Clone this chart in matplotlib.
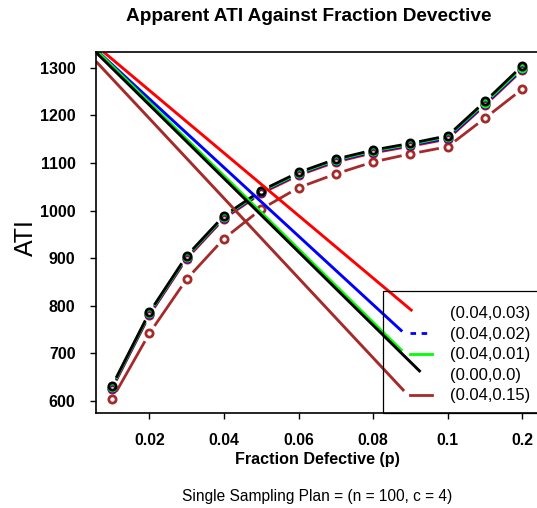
import matplotlib
matplotlib.use("Agg")
import matplotlib.pyplot as plt
from matplotlib.lines import Line2D
from matplotlib.patches import Rectangle

plt.rcParams['font.family'] = ['Liberation Sans', 'DejaVu Sans']

# ---- data -----------------------------------------------------------
p_values = [0.01, 0.02, 0.03, 0.04, 0.05, 0.06, 0.07, 0.08, 0.09, 0.10, 0.15, 0.20]
positions = list(range(1, len(p_values) + 1))   # equally spaced categories
tick_positions = [2, 4, 6, 8, 10, 12]

ati_red = [626, 780, 899, 983, 1036, 1074, 1102, 1121, 1135, 1150, 1221, 1295]
ati_blue = [628, 782, 901, 985, 1038, 1076, 1104, 1123, 1137, 1152, 1223, 1297]
ati_green = [630, 784, 903, 987, 1040, 1078, 1106, 1125, 1139, 1155, 1226, 1300]
ati_black = [632, 786, 905, 989, 1042, 1080, 1108, 1127, 1141, 1157, 1229, 1304]
ati_brown = [604, 742, 856, 941, 1003, 1048, 1077, 1102, 1119, 1134, 1194, 1255]

# straight lines (start x, start y, end x, end y) in plot units
diag_red = [0.77, 1333, 9.05, 789]
diag_blue = [0.63, 1333, 8.78, 746]
diag_green = [0.63, 1332, 8.78, 705]
diag_black = [0.57, 1332, 9.27, 661]
diag_brown = [0.57, 1313, 8.83, 621]

labels = ["(0.04,0.03)", "(0.04,0.02)", "(0.04,0.01)", "(0.00,0.0)", "(0.04,0.15)"]
colors = ["#ff0000", "#0000ff", "#00ff00", "#000000", "#a52a2a"]

# ---- figure ---------------------------------------------------------
fig = plt.figure(figsize=(5.37, 5.08), dpi=100)
ax = fig.add_axes([0.1782, 0.1876, 0.825, 0.7095])
ax.set_xlim(0.56, 12.44)
ax.set_ylim(575.4, 1332.3)


def type_b(ax, xs, ys, color, gap=9, lw=2.0):
    # R style type="b": segments stop short of each point
    tr = ax.transData
    inv = tr.inverted()
    for i in range(len(xs) - 1):
        (x0, y0), (x1, y1) = tr.transform([(xs[i], ys[i]), (xs[i + 1], ys[i + 1])])
        d = ((x1 - x0) ** 2 + (y1 - y0) ** 2) ** 0.5
        if d <= 2 * gap:
            continue
        ux, uy = (x1 - x0) / d, (y1 - y0) / d
        a = inv.transform((x0 + ux * gap, y0 + uy * gap))
        b = inv.transform((x1 - ux * gap, y1 - uy * gap))
        ax.plot([a[0], b[0]], [a[1], b[1]], color=color, lw=lw, solid_capstyle='butt')
    ax.plot(xs, ys, 'o', ms=5.2, mfc='none', mec=color, mew=2.0)


series = [ati_brown, ati_red, ati_blue, ati_green, ati_black]
series_colors = [colors[4], colors[0], colors[1], colors[2], colors[3]]
for ys, c in zip(series, series_colors):
    type_b(ax, positions, ys, c)

for d, c in zip([diag_red, diag_blue, diag_green, diag_black, diag_brown], colors):
    ax.plot([d[0], d[2]], [d[1], d[3]], color=c, lw=2.1, solid_capstyle='butt')

# axes styling
for side in ['top', 'right', 'left', 'bottom']:
    ax.spines[side].set_linewidth(1.2)
ax.set_xticks(tick_positions)
ax.set_xticklabels(['%g' % p_values[i - 1] for i in tick_positions],
                   fontsize=11.3, fontweight='bold')
ax.set_yticks([600, 700, 800, 900, 1000, 1100, 1200, 1300])
ax.tick_params(axis='y', labelsize=11.5, length=4.5, width=1, pad=10)
ax.tick_params(axis='x', length=4.5, width=1, pad=10)
for t in ax.get_yticklabels():
    t.set_fontweight('bold')

ax.set_xlabel("Fraction Defective (p)", fontsize=11.6, fontweight='bold', va='center')
ax.xaxis.set_label_coords(0.5, -0.131)
ax.set_ylabel("ATI", fontsize=18, va='center')
ax.yaxis.set_label_coords(-0.158, 0.485)

# legend: box drawn by hand, entries through ax.legend
ax.add_patch(Rectangle((0.649, 0.0), 0.5, 0.338, transform=ax.transAxes,
                       fill=False, ec='black', lw=0.9, clip_on=False, zorder=5))
styles = ['none', (0, (2, 2)), '-', 'none', '-']
handles = [Line2D([], [], color=c, lw=2, linestyle=s) for c, s in zip(colors, styles)]
ax.legend(handles, labels, loc='upper left', bbox_to_anchor=(0.7095, 0.295),
          frameon=False, fontsize=12, handlelength=1.3, handletextpad=1.1,
          borderpad=0, borderaxespad=0, labelspacing=0.33)

fig.text(0.5745, 0.967, "Apparent ATI Against Fraction Devective",
         ha='center', va='center', fontsize=13.7, fontweight='bold')
fig.text(0.590, 0.0222, "Single Sampling Plan = (n = 100, c = 4)",
         ha='center', va='center', fontsize=11.2)

fig.savefig("out.png", dpi=100)
